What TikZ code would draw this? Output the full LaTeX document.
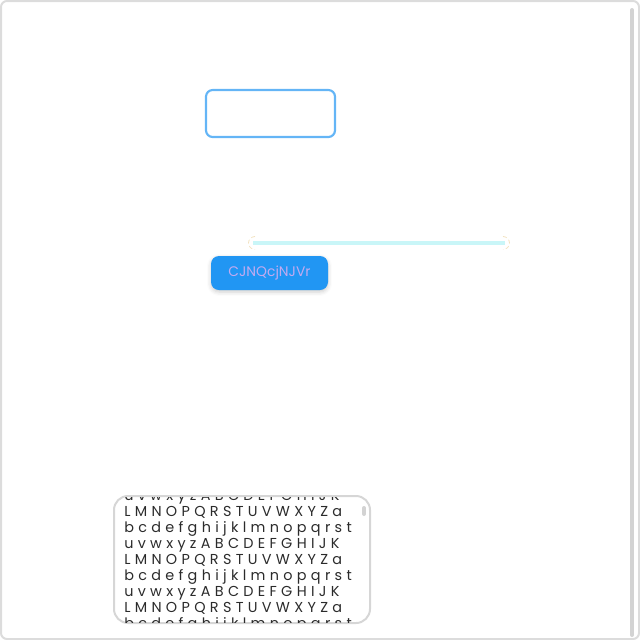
\documentclass[tikz,border=0pt]{standalone}
\usepackage{fontspec}
\setmainfont{Poppins}
\newfontfamily\uifont[LetterSpace=30]{Poppins}
\usepackage{tikz}
\usetikzlibrary{positioning,shadows.blur}
\definecolor{framegray}{HTML}{DCDCDC}
\definecolor{barcol}{HTML}{D3D3D3}
\definecolor{inputblue}{HTML}{64B5F6}
\definecolor{btnblue}{HTML}{2196F3}
\definecolor{btntext}{HTML}{C2AAF0}
\definecolor{trackcol}{HTML}{C9F6F8}
\definecolor{knobcol}{HTML}{F2E2C0}
\definecolor{areagray}{HTML}{D6D6D6}
\definecolor{areatext}{HTML}{2B2B2B}
\tikzset{
mybox/.style={
  draw=inputblue,
  line width=1.6pt,
  rounded corners=5pt,
  minimum width=96.75pt,
  minimum height=35.25pt
  },
mybtn/.style={
  fill=btnblue,
  rounded corners=6pt,
  minimum width=87.75pt,
  minimum height=25.5pt,
  text=btntext,
  font=\fontsize{10.4}{12}\selectfont,
  blur shadow={shadow xshift=0pt,shadow yshift=-1.5pt,shadow opacity=20,shadow blur radius=3pt}
  },
myarea/.style={
  draw=areagray,
  line width=1.5pt,
  rounded corners=10.5pt,
  minimum width=192pt,
  minimum height=95.25pt
  },
myline/.style={
  anchor=base west,
  inner sep=0pt,
  text=areatext,
  font=\uifont\fontsize{10.8}{12}\selectfont
  }
}
\begin{document}
\begin{tikzpicture}[>=latex,x=0.75pt,y=-0.75pt]
            \useasboundingbox (0,0) rectangle (640,640);
            \draw[framegray,line width=1.5pt,rounded corners=4.5pt] (1,1) rectangle (639,639);
            \draw[barcol,line width=3pt,line cap=round] (632,10) -- (632,635);
            % input field
            \node[mybox] (input) at (270.5,113.5) {};
            % slider
            \coordinate (trackL) at (253,243);
            \coordinate (trackR) at (505,243);
            \draw[trackcol,line width=3pt] (trackL) -- (trackR);
            \draw[knobcol,densely dashed,line width=0.6pt] (255,236.5) arc (-90:-270:6.5);
            \draw[knobcol,densely dashed,line width=0.6pt] (503,236.5) arc (-90:90:6.5);
            % button
            \node[mybtn] (btn) at (269.5,273) {CJNQcjNJVr};
            % text area
            \node[myarea] (area) at (242,559.5) {};
            \begin{scope}
                \clip (115,497) rectangle (369,622);
                \foreach \yy/\txt in {500/uvwxyzABCDEFGHIJK,516/LMNOPQRSTUVWXYZa,532/bcdefghijklmnopqrst,
                                      548/uvwxyzABCDEFGHIJK,564/LMNOPQRSTUVWXYZa,580/bcdefghijklmnopqrst,
                                      596/uvwxyzABCDEFGHIJK,612/LMNOPQRSTUVWXYZa,628/bcdefghijklmnopqrst}
                    \node[myline] at (124,\yy) {\txt};
            \end{scope}
            \draw[barcol,line width=3pt,line cap=round] (364,508) -- (364,514);
        \end{tikzpicture}
\end{document}
